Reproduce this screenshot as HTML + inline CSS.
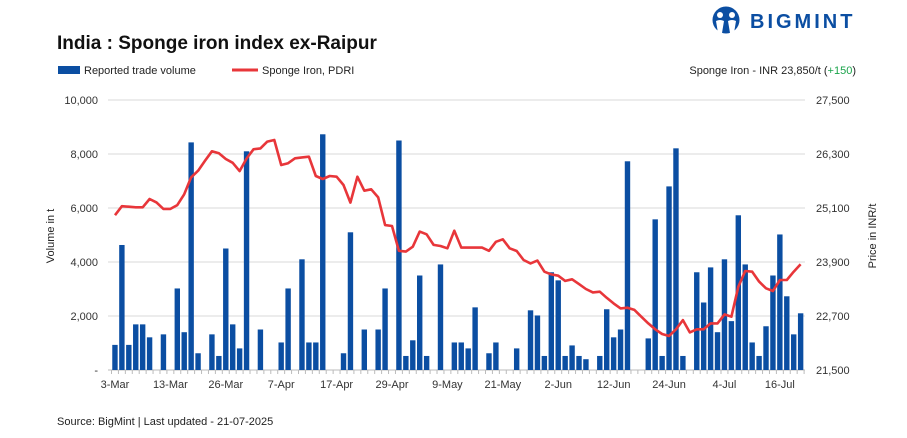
<!DOCTYPE html>
<html><head><meta charset="utf-8"><style>
body{margin:0;background:#fff;width:907px;height:438px;overflow:hidden;font-family:"Liberation Sans",Arial,sans-serif}
svg{display:block}
</style></head><body>
<svg id="chart" width="907" height="438" xmlns="http://www.w3.org/2000/svg">
<g>
<circle cx="726" cy="20" r="13.5" fill="#0b4ea2"/>
<circle cx="720" cy="15" r="3" fill="#fff"/><circle cx="732" cy="15" r="3" fill="#fff"/>
<path d="M716 21 Q720 19 724 21 L722 33 L718 33Z M728 21 Q732 19 736 21 L734 33 L730 33Z" fill="#fff"/>
<text x="750" y="28" font-size="20" font-weight="bold" fill="#0b4ea2" letter-spacing="3">BIGMINT</text>
</g>
<text x="57" y="49" font-size="19" font-weight="bold" fill="#111">India : Sponge iron index ex-Raipur</text>
<g>
<rect x="58" y="66" width="22" height="8" fill="#0b4ea2"/>
<text x="84" y="74" font-size="11" fill="#222">Reported trade volume</text>
<line x1="232" y1="70" x2="258" y2="70" stroke="#e8363a" stroke-width="3"/>
<text x="262" y="74" font-size="11" fill="#222">Sponge Iron, PDRI</text>
</g>
<text x="856" y="74" font-size="11" fill="#222" text-anchor="end">Sponge Iron - INR 23,850/t (<tspan fill="#1aa34a">+150</tspan>)</text>
<g id="grid"></g><g id="bars"></g><g id="line"></g><g id="axes"></g>
<text transform="translate(54,236) rotate(-90)" font-size="11" fill="#222" text-anchor="middle">Volume in t</text>
<text transform="translate(876,236) rotate(-90)" font-size="11" fill="#222" text-anchor="middle">Price in INR/t</text>
<text x="57" y="425" font-size="11" fill="#222">Source: BigMint | Last updated - 21-07-2025</text>
</svg>
<script>
const volumes=[930,4630,930,1690,1690,1210,0,1320,0,3020,1400,8430,620,0,1320,520,4500,1690,800,8100,0,1500,0,0,1020,3020,0,4100,1020,1020,8730,0,0,620,5100,0,1500,0,1500,3020,0,8500,520,1100,3500,520,0,3910,0,1020,1020,800,2320,0,620,1020,0,0,800,0,2210,2020,520,3620,3320,520,910,520,400,0,520,2250,1210,1500,7730,0,0,1170,5580,520,6800,8210,520,0,3620,2500,3800,1400,4100,1810,5730,3910,1020,520,1620,3500,5020,2730,1320,2100];
const prices=[24940,25140,25130,25115,25115,25300,25225,25080,25080,25165,25405,25780,25930,26150,26360,26315,26190,26105,25920,26200,26405,26425,26575,26610,26055,26095,26205,26225,26240,25810,25745,25810,25795,25610,25220,25795,25485,25515,25335,24720,24700,24150,24130,24240,24575,24515,24280,24255,24205,24595,24220,24220,24220,24220,24150,24350,24405,24205,24145,23945,23870,23930,23685,23625,23595,23480,23515,23410,23300,23225,23240,23105,22980,22870,22885,22835,22685,22535,22405,22300,22255,22405,22610,22335,22405,22405,22535,22535,22735,22685,23350,23700,23685,23465,23315,23255,23500,23500,23685,23850];
const xLabels=["3-Mar","13-Mar","26-Mar","7-Apr","17-Apr","29-Apr","9-May","21-May","2-Jun","12-Jun","24-Jun","4-Jul","16-Jul"];
const leftTicks=[0,2000,4000,6000,8000,10000];
const rightTicks=[21500,22700,23900,25100,26300,27500];
const NS="http://www.w3.org/2000/svg";
const X0=111.5,STEP=6.926,Y0=370,Y1=100;
const xs=i=>X0+STEP*(i+0.5);
const yL=v=>Y0-(v/10000)*(Y0-Y1);
const yR=v=>Y0-((v-21500)/6000)*(Y0-Y1);
function mk(tag,attrs,parent){const e=document.createElementNS(NS,tag);for(const k in attrs)e.setAttribute(k,attrs[k]);document.getElementById(parent).appendChild(e);return e;}
leftTicks.forEach((t,i)=>{
 const g=mk("line",{x1:108,x2:805,y1:yL(t),y2:yL(t),stroke:i===0?"#bbb":"#d9d9d9","stroke-width":1},"grid");
 
 
 const l=mk("text",{x:98,y:yL(t)+4,"font-size":11,fill:"#333","text-anchor":"end"},"axes");
 l.textContent=t===0?"-":t.toLocaleString("en-US");
 
 
});
rightTicks.forEach(t=>{
 const l=mk("text",{x:816,y:yR(t)+4,"font-size":11,fill:"#333"},"axes");
 l.textContent=t.toLocaleString("en-US");
 
 
});
volumes.forEach((v,i)=>{
 if(v<=0)return;
 const b=mk("rect",{x:xs(i)-2.7,y:yL(v),width:5.4,height:Y0-yL(v),fill:"#0b4ea2"},"bars");
 
 
});
for(let i=0;i<=volumes.length;i++){
 const t=mk("line",{x1:X0+STEP*i,x2:X0+STEP*i,y1:Y0,y2:Y0+4,stroke:"#bbb"},"axes");
 
 
}
xLabels.forEach((s,k)=>{
 const l=mk("text",{x:xs(k*8),y:388,"font-size":11,fill:"#333","text-anchor":"middle"},"axes");
 l.textContent=s;
 
 
});
const p=mk("polyline",{points:prices.map((v,i)=>xs(i).toFixed(1)+","+yR(v).toFixed(1)).join(" "),fill:"none",stroke:"#e8363a","stroke-width":2.6,"stroke-linejoin":"round"},"line");


</script>
</body></html>
